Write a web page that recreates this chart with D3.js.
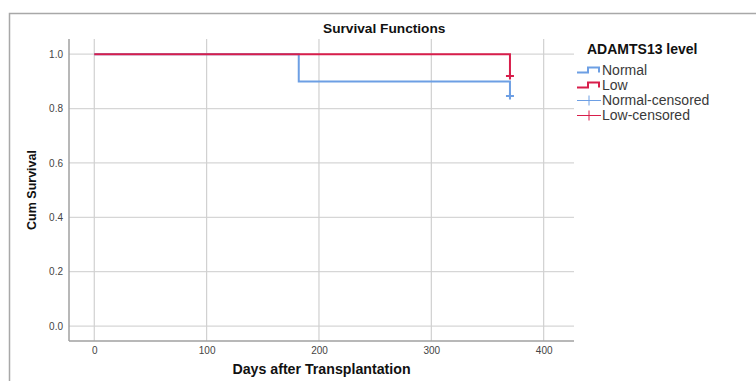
<!DOCTYPE html>
<html>
<head>
<meta charset="utf-8">
<script src="https://cdn.jsdelivr.net/npm/d3@7"></script>
<style>
  body { margin: 0; background: #fff; }
  text { font-family: "Liberation Sans", Arial, sans-serif; }
</style>
</head>
<body>
<svg id="chart" width="756" height="381"></svg>
<script>
// Kaplan-Meier steps
var normalTimes = [0, 182, 370];
var normalSurv = [1.0, 0.9, 0.84];
var lowTimes = [0, 370];
var lowSurv = [1.0, 0.913];

// censored marks
var normalCensored = [[370, 0.846]];
var lowCensored = [[370, 0.92]];

var xTicks = [0, 100, 200, 300, 400];
var yTicks = [0.0, 0.2, 0.4, 0.6, 0.8, 1.0];

var legendLabels = ["Normal", "Low", "Normal-censored", "Low-censored"];
var blue = "#6d9fe4", red = "#d81e4b";

var svg = d3.select("#chart");

// outer frame (only top and left edges are visible)
svg.append("path")
  .attr("d", "M9.5,381 V13.5 H756")
  .attr("fill", "none")
  .attr("stroke", "#a8a8a8")
  .attr("stroke-width", 1.5);

var x = d3.scaleLinear().domain([-22.5, 427]).range([69, 574]);
var y = d3.scaleLinear().domain([-0.055, 1.056]).range([341, 39]);

// grid
svg.append("g").selectAll("line")
  .data(yTicks).enter().append("line")
  .attr("x1", 69).attr("x2", 574)
  .attr("y1", function(d){ return y(d); })
  .attr("y2", function(d){ return y(d); })
  .attr("stroke", "#d6d6d6").attr("stroke-width", 1.2);

svg.append("g").selectAll("line")
  .data(xTicks).enter().append("line")
  .attr("y1", 39).attr("y2", 341)
  .attr("x1", function(d){ return x(d); })
  .attr("x2", function(d){ return x(d); })
  .attr("stroke", "#d0d0d0").attr("stroke-width", 1.2);

// axes (no tick marks, just the lines and labels)
var yAxis = svg.append("g")
  .attr("transform", "translate(69,0)")
  .call(d3.axisLeft(y).tickValues(yTicks).tickFormat(d3.format(".1f")).tickSize(0).tickPadding(6));
var xAxis = svg.append("g")
  .attr("transform", "translate(0,341)")
  .call(d3.axisBottom(x).tickValues(xTicks).tickFormat(d3.format("d")).tickSize(0).tickPadding(6));

[xAxis, yAxis].forEach(function(a){
  a.select(".domain").attr("stroke", "#a0a0a0").attr("stroke-width", 1.5);
  a.selectAll("text").attr("fill", "#444").style("font-size", "10px")
    .style("font-family", "'Liberation Sans', Arial, sans-serif");
});
yAxis.select(".domain").attr("d", "M0,39V341");
xAxis.select(".domain").attr("d", "M69,0H574");

// survival curves
var line = d3.line().curve(d3.curveStepAfter)
  .x(function(d){ return x(d[0]); })
  .y(function(d){ return y(d[1]); });

svg.append("path")
  .datum(d3.zip(normalTimes, normalSurv))
  .attr("d", line).attr("fill", "none")
  .attr("stroke", blue).attr("stroke-width", 2);

svg.append("path")
  .datum(d3.zip(lowTimes, lowSurv))
  .attr("d", line).attr("fill", "none")
  .attr("stroke", red).attr("stroke-width", 2);

function cross(sel, data, color, hw, hh) {
  sel.selectAll(null).data(data).enter().append("path")
    .attr("d", function(d){
      var cx = x(d[0]), cy = y(d[1]);
      return "M" + (cx - hw) + "," + cy + "H" + (cx + hw) +
             "M" + cx + "," + (cy - hh) + "V" + (cy + hh);
    })
    .attr("stroke", color).attr("stroke-width", 2).attr("fill", "none");
}
cross(svg, normalCensored, blue, 4, 3.5);
cross(svg, lowCensored, red, 4, 3.5);

// titles
svg.append("text").attr("x", 323).attr("y", 33)
  .style("font-size", "13.7px").style("font-weight", "bold").attr("fill", "#111")
  .text("Survival Functions");

svg.append("text").attr("x", 321.5).attr("y", 374)
  .attr("text-anchor", "middle")
  .style("font-size", "14.2px").style("font-weight", "bold").attr("fill", "#111")
  .text("Days after Transplantation");

svg.append("text")
  .attr("transform", "translate(36,190) rotate(-90)")
  .attr("text-anchor", "middle")
  .style("font-size", "12.5px").style("font-weight", "bold").attr("fill", "#111")
  .text("Cum Survival");

// legend
var lg = svg.append("g");
lg.append("text").attr("x", 587).attr("y", 54)
  .style("font-size", "14px").style("font-weight", "bold").attr("fill", "#111")
  .text("ADAMTS13 level");

var legendColors = [blue, red, blue, red];
legendLabels.forEach(function(lab, i){
  var cy = 70.5 + i * 15;
  if (i < 2) {
    lg.append("path")
      .attr("d", "M577," + (cy + 2) + "H588V" + (cy - 3) + "H599V" + (cy + 2))
      .attr("fill", "none").attr("stroke", legendColors[i]).attr("stroke-width", 2);
  } else {
    lg.append("path")
      .attr("d", "M577," + cy + "H601M589," + (cy - 5) + "V" + (cy + 5))
      .attr("fill", "none").attr("stroke", legendColors[i]).attr("stroke-width", 1);
  }
  lg.append("text").attr("x", 602).attr("y", cy + 4.5)
    .style("font-size", "14px").attr("fill", "#3a3a3a")
    .text(lab);
});
</script>
</body>
</html>
